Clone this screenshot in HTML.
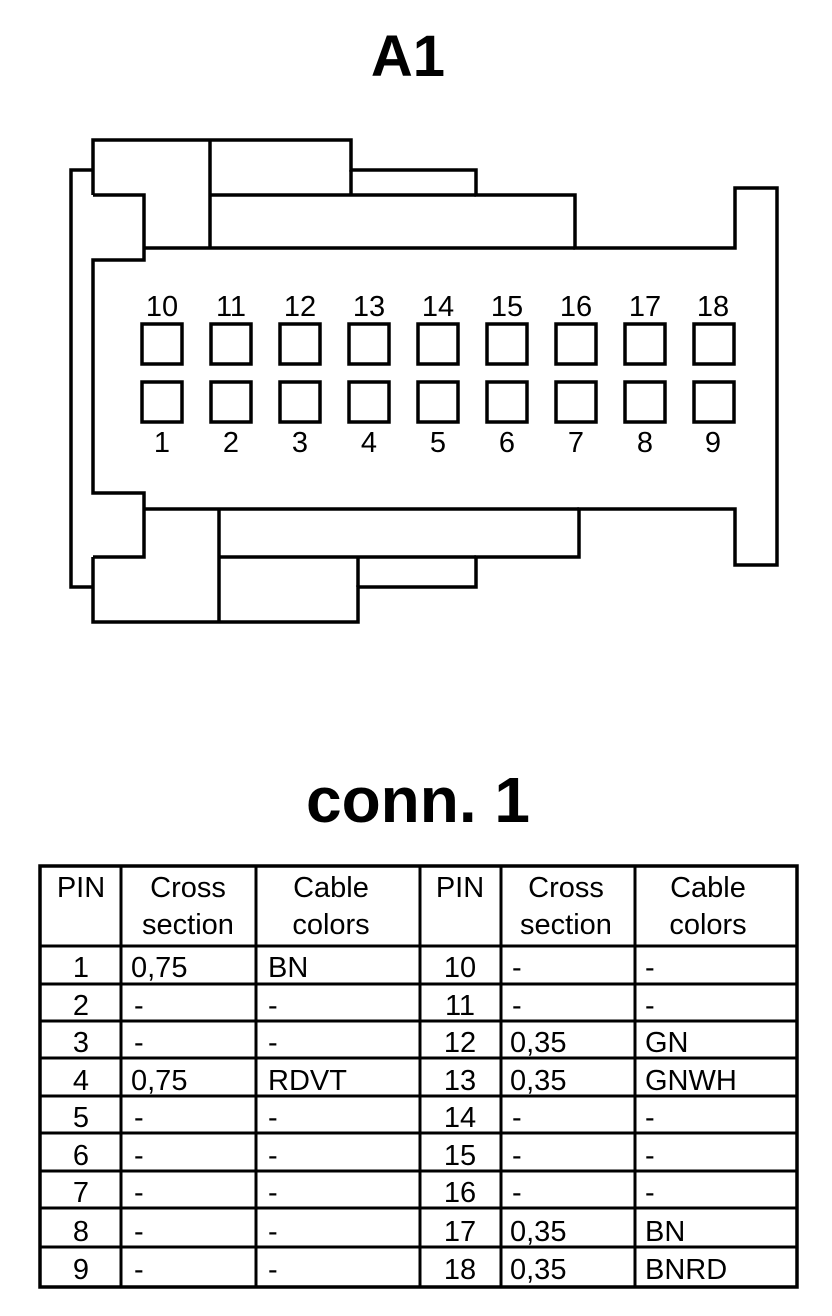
<!DOCTYPE html>
<html><head><meta charset="utf-8"><style>
html,body{margin:0;padding:0;background:#fff}
svg{display:block}
text{font-family:"Liberation Sans",Arial,sans-serif;fill:#000}
</style></head><body>
<svg width="832" height="1316" viewBox="0 0 832 1316" xmlns="http://www.w3.org/2000/svg">
<text x="408" y="76" font-size="58" font-weight="bold" text-anchor="middle">A1</text>
<g fill="none" stroke="#000" stroke-width="3.5">
<polyline points="93,170 71,170 71,587 93,587"/>
<polyline points="93,195 93,140 351,140 351,170 476,170 476,195 575,195 575,248 735,248 735,188 777,188 777,565 735,565 735,509 579,509 579,557 476,557 476,587 358,587 358,622 93,622 93,557"/>
<polyline points="93,195 144,195 144,260 93,260 93,493 144,493 144,557 93,557"/>
<line x1="144" y1="248" x2="575" y2="248"/>
<line x1="210" y1="140" x2="210" y2="248"/>
<line x1="210" y1="195" x2="476" y2="195"/>
<line x1="351" y1="170" x2="351" y2="195"/>
<line x1="144" y1="509" x2="579" y2="509"/>
<line x1="219" y1="509" x2="219" y2="622"/>
<line x1="219" y1="557" x2="476" y2="557"/>
<line x1="358" y1="557" x2="358" y2="587"/>
</g>
<g fill="none" stroke="#000" stroke-width="3.5">
<rect x="142" y="324" width="40" height="40"/><rect x="211" y="324" width="40" height="40"/><rect x="280" y="324" width="40" height="40"/><rect x="349" y="324" width="40" height="40"/><rect x="418" y="324" width="40" height="40"/><rect x="487" y="324" width="40" height="40"/><rect x="556" y="324" width="40" height="40"/><rect x="625" y="324" width="40" height="40"/><rect x="694" y="324" width="40" height="40"/>
<rect x="142" y="382" width="40" height="40"/><rect x="211" y="382" width="40" height="40"/><rect x="280" y="382" width="40" height="40"/><rect x="349" y="382" width="40" height="40"/><rect x="418" y="382" width="40" height="40"/><rect x="487" y="382" width="40" height="40"/><rect x="556" y="382" width="40" height="40"/><rect x="625" y="382" width="40" height="40"/><rect x="694" y="382" width="40" height="40"/>
</g>
<g font-size="29" text-anchor="middle">
<text x="162" y="316">10</text><text x="231" y="316">11</text><text x="300" y="316">12</text><text x="369" y="316">13</text><text x="438" y="316">14</text><text x="507" y="316">15</text><text x="576" y="316">16</text><text x="645" y="316">17</text><text x="713" y="316">18</text>
<text x="162" y="452">1</text><text x="231" y="452">2</text><text x="300" y="452">3</text><text x="369" y="452">4</text><text x="438" y="452">5</text><text x="507" y="452">6</text><text x="576" y="452">7</text><text x="645" y="452">8</text><text x="713" y="452">9</text>
</g>
<text x="418" y="822" font-size="64" font-weight="bold" text-anchor="middle">conn. 1</text>
<g stroke="#000" fill="none">
<rect x="40" y="866" width="757" height="421" stroke-width="3.5"/>
<g stroke-width="3">
<line x1="121" y1="866" x2="121" y2="1287"/><line x1="256" y1="866" x2="256" y2="1287"/><line x1="420" y1="866" x2="420" y2="1287"/><line x1="501" y1="866" x2="501" y2="1287"/><line x1="635" y1="866" x2="635" y2="1287"/>
<line x1="40" y1="946" x2="797" y2="946"/><line x1="40" y1="984" x2="797" y2="984"/><line x1="40" y1="1021" x2="797" y2="1021"/><line x1="40" y1="1058" x2="797" y2="1058"/><line x1="40" y1="1096" x2="797" y2="1096"/><line x1="40" y1="1133" x2="797" y2="1133"/><line x1="40" y1="1171" x2="797" y2="1171"/><line x1="40" y1="1208" x2="797" y2="1208"/><line x1="40" y1="1247" x2="797" y2="1247"/>
</g></g>
<g font-size="29">
<g text-anchor="middle">
<text x="81" y="897">PIN</text><text x="188" y="897">Cross</text><text x="188" y="934">section</text><text x="331" y="897">Cable</text><text x="331" y="934">colors</text>
<text x="460" y="897">PIN</text><text x="566" y="897">Cross</text><text x="566" y="934">section</text><text x="708" y="897">Cable</text><text x="708" y="934">colors</text>
<text x="81" y="977">1</text><text x="81" y="1015">2</text><text x="81" y="1052">3</text><text x="81" y="1090">4</text><text x="81" y="1127">5</text><text x="81" y="1165">6</text><text x="81" y="1202">7</text><text x="81" y="1241">8</text><text x="81" y="1279">9</text>
<text x="460" y="977">10</text><text x="460" y="1015">11</text><text x="460" y="1052">12</text><text x="460" y="1090">13</text><text x="460" y="1127">14</text><text x="460" y="1165">15</text><text x="460" y="1202">16</text><text x="460" y="1241">17</text><text x="460" y="1279">18</text>
</g>
<text x="131" y="977">0,75</text><text x="268" y="977">BN</text><text x="512" y="977">-</text><text x="645" y="977">-</text>
<text x="134" y="1015">-</text><text x="268" y="1015">-</text><text x="512" y="1015">-</text><text x="645" y="1015">-</text>
<text x="134" y="1052">-</text><text x="268" y="1052">-</text><text x="510" y="1052">0,35</text><text x="645" y="1052">GN</text>
<text x="131" y="1090">0,75</text><text x="268" y="1090">RDVT</text><text x="510" y="1090">0,35</text><text x="645" y="1090">GNWH</text>
<text x="134" y="1127">-</text><text x="268" y="1127">-</text><text x="512" y="1127">-</text><text x="645" y="1127">-</text>
<text x="134" y="1165">-</text><text x="268" y="1165">-</text><text x="512" y="1165">-</text><text x="645" y="1165">-</text>
<text x="134" y="1202">-</text><text x="268" y="1202">-</text><text x="512" y="1202">-</text><text x="645" y="1202">-</text>
<text x="134" y="1241">-</text><text x="268" y="1241">-</text><text x="510" y="1241">0,35</text><text x="645" y="1241">BN</text>
<text x="134" y="1279">-</text><text x="268" y="1279">-</text><text x="510" y="1279">0,35</text><text x="645" y="1279">BNRD</text>
</g>
</svg>
</body></html>
